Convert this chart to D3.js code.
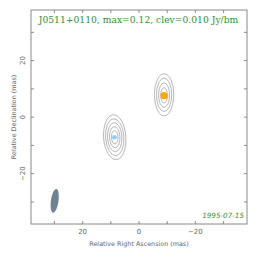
<!DOCTYPE html>
<html><head><meta charset="utf-8">
<script src="https://cdn.jsdelivr.net/npm/d3@7"></script>
<style>body{margin:0;background:#fff}svg{display:block}</style>
</head><body>
<script>
// ---- data ----
const title = "J0511+0110, max=0.12, clev=0.010 Jy/bm";
const dateLabel = "1995-07-15";
const xLabel = "Relative Right Ascension (mas)";
const yLabel = "Relative Declination (mas)";
const xDomain = [38.3, -38.3];
const yDomain = [-37.8, 37.9];
const majorTicks = [20, 0, -20];
const minorTicks = [30, 10, -10, -30];
// components
const compRA = [-8.9, 8.7];
const compDec = [7.6, -7.1];
const compSize = [3.6, 2.3];
const compColor = ["#ffa500", "#87cefa"];
// contours: [cx, cy, semiX, semiY, angle(deg)] in mas
const contourA = [[-8.9,7.9,3.45,7.45,0],[-8.9,7.9,2.7,5.9,0],[-8.9,7.8,1.95,4.3,0],[-8.9,7.7,1.2,2.7,0]];
const contourB = [[8.6,-7.1,3.95,7.95,-4],[8.6,-7.1,3.25,6.55,-4],[8.6,-7.1,2.55,5.15,-3],[8.6,-7.1,1.85,3.75,-3],[8.6,-7.1,1.15,2.35,-2]];
// beam: [cx, cy, semiX, semiY, angle]
const beam = [29.9, -29.6, 1.35, 4.25, 8];

const W = 264, H = 262;
const m = {l:31, r:17, t:10, b:38};
const svg = d3.select("body").append("svg").attr("width", W).attr("height", H);
const x = d3.scaleLinear().domain(xDomain).range([m.l, W - m.r]);
const y = d3.scaleLinear().domain(yDomain).range([H - m.b, m.t]);
const sx = Math.abs(x(1) - x(0)), sy = Math.abs(y(1) - y(0));
const gray = "#8a8a8a", green = "#2f8f2f";

svg.append("rect").attr("x", m.l).attr("y", m.t).attr("width", W - m.r - m.l).attr("height", H - m.b - m.t)
  .attr("fill", "none").attr("stroke", gray).attr("stroke-width", 1);

const allTicks = majorTicks.concat(minorTicks);
const tl = 3;
const tg = svg.append("g").attr("stroke", gray).attr("stroke-width", 1);
allTicks.forEach(t => {
  tg.append("line").attr("x1", x(t)).attr("x2", x(t)).attr("y1", H - m.b).attr("y2", H - m.b - tl);
  tg.append("line").attr("x1", x(t)).attr("x2", x(t)).attr("y1", m.t).attr("y2", m.t + tl);
  tg.append("line").attr("y1", y(t)).attr("y2", y(t)).attr("x1", m.l).attr("x2", m.l + tl);
  tg.append("line").attr("y1", y(t)).attr("y2", y(t)).attr("x1", W - m.r).attr("x2", W - m.r - tl);
});
const fmt = v => v < 0 ? "\u2212" + Math.abs(v) : String(v);
majorTicks.forEach(t => {
  svg.append("text").attr("x", x(t)).attr("y", H - m.b + 10).attr("text-anchor", "middle")
    .attr("font-family", "DejaVu Sans").attr("font-size", 7).attr("fill", "#666").text(fmt(t));
  svg.append("text").attr("transform", `translate(${m.l - 6},${y(t)}) rotate(-90)`).attr("text-anchor", "middle")
    .attr("font-family", "DejaVu Sans").attr("font-size", 7).attr("fill", "#666").text(fmt(t));
});
svg.append("text").attr("x", (x.range()[0] + x.range()[1]) / 2).attr("y", H - m.b + 22).attr("text-anchor", "middle")
  .attr("font-family", "DejaVu Sans").attr("font-size", 6.4).attr("fill", "#666").text(xLabel);
svg.append("text").attr("transform", `translate(${m.l - 15},${(y.range()[0] + y.range()[1]) / 2}) rotate(-90)`)
  .attr("text-anchor", "middle").attr("font-family", "DejaVu Sans").attr("font-size", 6.4).attr("fill", "#666").text(yLabel);

svg.append("text").attr("x", 138.5).attr("y", 23).attr("text-anchor", "middle")
  .attr("font-family", "DejaVu Serif").attr("font-size", 9.2).attr("fill", green).text(title);
svg.append("text").attr("x", W - m.r - 3).attr("y", H - m.b - 6).attr("text-anchor", "end")
  .attr("font-family", "DejaVu Sans").attr("font-style", "italic").attr("font-size", 7.2).attr("fill", green).text(dateLabel);

const cg = svg.append("g").attr("fill", "none").attr("stroke", "#9a9a9a").attr("stroke-width", 0.7);
contourA.concat(contourB).forEach(c => {
  cg.append("ellipse").attr("cx", x(c[0])).attr("cy", y(c[1])).attr("rx", c[2] * sx).attr("ry", c[3] * sy)
    .attr("transform", `rotate(${c[4]},${x(c[0])},${y(c[1])})`);
});
compRA.forEach((ra, i) => {
  svg.append("circle").attr("cx", x(ra)).attr("cy", y(compDec[i])).attr("r", compSize[i]).attr("fill", compColor[i]);
});
svg.append("ellipse").attr("cx", x(beam[0])).attr("cy", y(beam[1])).attr("rx", beam[2] * sx).attr("ry", beam[3] * sy)
  .attr("transform", `rotate(${beam[4]},${x(beam[0])},${y(beam[1])})`).attr("fill", "#6f8293");
</script>
</body></html>
